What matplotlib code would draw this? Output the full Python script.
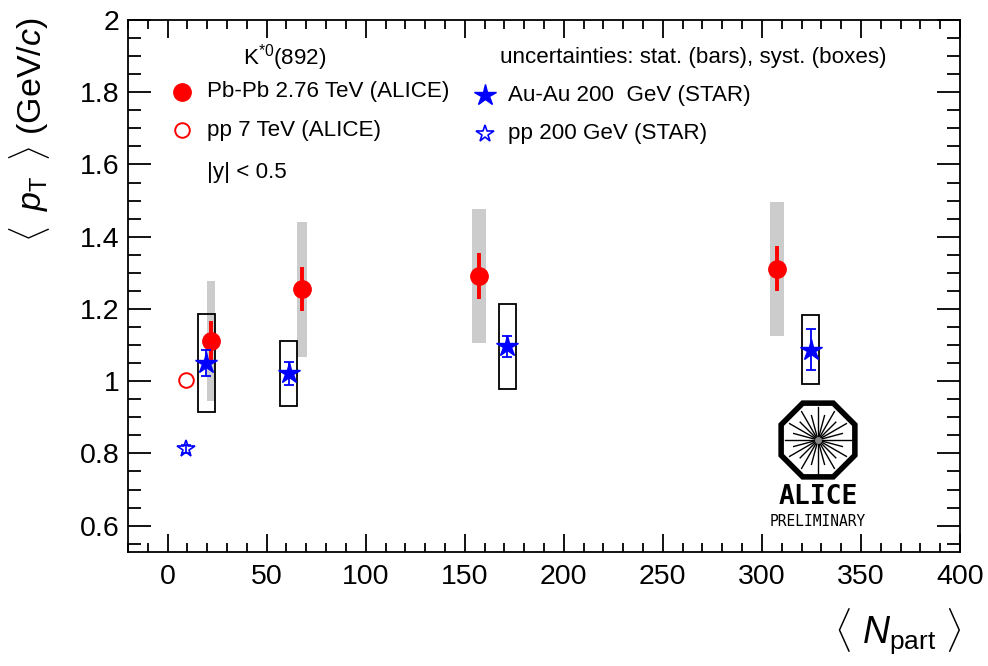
import numpy as np
import matplotlib
matplotlib.use("Agg")
import matplotlib.pyplot as plt
from matplotlib.patches import Rectangle, RegularPolygon
from matplotlib.ticker import MultipleLocator

plt.rcParams['font.family'] = ['Liberation Sans', 'DejaVu Sans']
plt.rcParams['mathtext.fontset'] = 'custom'
plt.rcParams['mathtext.rm'] = 'Liberation Sans'
plt.rcParams['mathtext.it'] = 'Liberation Sans:italic'
plt.rcParams['mathtext.bf'] = 'Liberation Sans:bold'

# K*0(892) mean pT vs <Npart>
# ALICE Pb-Pb 2.76 TeV
pbpb_npart = [22.0, 68.0, 157.0, 307.5]
pbpb_mpt = [1.111, 1.255, 1.291, 1.311]
pbpb_stat = [0.055, 0.061, 0.063, 0.062]
pbpb_syst = [0.165, 0.187, 0.185, 0.185]
pbpb_syst_w = [3.8, 5.2, 7.0, 7.0]

# ALICE pp 7 TeV
pp7_npart = [9.3]
pp7_mpt = [1.002]

# STAR Au-Au 200 GeV
auau_npart = [19.4, 61.2, 171.5, 324.6]
auau_mpt = [1.051, 1.022, 1.096, 1.087]
auau_stat = [0.036, 0.032, 0.028, 0.057]
auau_syst = [0.135, 0.090, 0.117, 0.095]
auau_syst_w = [8.6, 8.6, 8.6, 8.6]

# STAR pp 200 GeV
pp200_npart = [9.3]
pp200_mpt = [0.812]
pp200_stat = [0.012]

xticks = [0, 50, 100, 150, 200, 250, 300, 350, 400]
yticks = [0.6, 0.8, 1.0, 1.2, 1.4, 1.6, 1.8, 2.0]
ytick_labels = ["0.6", "0.8", "1", "1.2", "1.4", "1.6", "1.8", "2"]

RED = "#ff0000"
BLUE = "#0000ff"
GRAY = "#cccccc"

fig = plt.figure(figsize=(9.88, 6.66), dpi=100)
ax = fig.add_axes([128 / 988, 1 - 552 / 666, 832 / 988, 532 / 666])
ax.set_xlim(-20, 400)
ax.set_ylim(0.527, 2.0)

# systematic boxes
for x, y, s, w in zip(pbpb_npart, pbpb_mpt, pbpb_syst, pbpb_syst_w):
    ax.add_patch(Rectangle((x - w / 2, y - s), w, 2 * s, facecolor=GRAY,
                           edgecolor='none', zorder=1))
for x, y, s, w in zip(auau_npart, auau_mpt, auau_syst, auau_syst_w):
    ax.add_patch(Rectangle((x - w / 2, y - s), w, 2 * s, facecolor='none',
                           edgecolor='black', lw=1.3, zorder=2))

# points with statistical bars
ax.errorbar(pbpb_npart, pbpb_mpt, yerr=pbpb_stat, fmt='o', color=RED,
            ms=12.5, elinewidth=2.8, capsize=0, zorder=4)
ax.plot(pp7_npart, pp7_mpt, 'o', mfc='none', mec=RED, mew=1.4, ms=10.5, zorder=4)
ax.errorbar(auau_npart, auau_mpt, yerr=auau_stat, fmt='*', color=BLUE,
            ms=16, elinewidth=1.3, capsize=3.5, capthick=1.3, zorder=5)
ax.errorbar(pp200_npart, pp200_mpt, yerr=pp200_stat, fmt='*', color=BLUE,
            mfc='none', mec=BLUE, mew=1.2, ms=13, elinewidth=1.2,
            capsize=3.5, capthick=1.2, zorder=5)

# axes styling
ax.set_xticks(xticks)
ax.set_xticklabels([str(t) for t in xticks])
ax.set_yticks(yticks)
ax.set_yticklabels(ytick_labels)
ax.xaxis.set_minor_locator(MultipleLocator(10))
ax.yaxis.set_minor_locator(MultipleLocator(0.05))
ax.tick_params(which='both', direction='in', top=True, right=True,
               labelsize=20.5, width=1.3)
ax.tick_params(axis='x', which='major', length=13, pad=9)
ax.tick_params(axis='x', which='minor', length=6.5)
ax.tick_params(axis='y', which='major', length=16.5, pad=6)
ax.tick_params(axis='y', which='minor', length=9.5)
for sp in ax.spines.values():
    sp.set_linewidth(1.3)

fig.text(30 / 988, 1 - 18 / 666,
         r"$\langle\;\;p_{\mathrm{T}}\;\;\rangle$ (GeV/$c$)",
         rotation=90, ha='center', va='top', fontsize=24.5)
fig.text(962 / 988, 1 - 632 / 666, r"$\langle\ N_{\mathrm{part}}\ \rangle$",
         ha='right', va='center', fontsize=27)

# legend block
T = ax.transAxes
fs = 16.1
ax.text(0.138, 0.930, r"K$^{*0}$(892)", transform=T, fontsize=fs, va='center')
ax.plot([0.065], [0.865], 'o', color=RED, ms=12.5, transform=T, clip_on=False)
ax.text(0.095, 0.865, "Pb-Pb 2.76 TeV (ALICE)", transform=T, fontsize=fs, va='center')
ax.plot([0.065], [0.793], 'o', mfc='none', mec=RED, mew=1.4, ms=10.5,
        transform=T, clip_on=False)
ax.text(0.095, 0.793, "pp 7 TeV (ALICE)", transform=T, fontsize=fs, va='center')
ax.text(0.095, 0.714, "|y| < 0.5", transform=T, fontsize=fs, va='center')
ax.text(0.447, 0.930, "uncertainties: stat. (bars), syst. (boxes)", transform=T,
        fontsize=fs, va='center')
ax.plot([0.429], [0.859], '*', color=BLUE, ms=16, transform=T, clip_on=False)
ax.text(0.457, 0.859, "Au-Au 200  GeV (STAR)", transform=T, fontsize=fs, va='center')
ax.plot([0.429], [0.786], '*', mfc='none', mec=BLUE, mew=1.2, ms=13,
        transform=T, clip_on=False)
ax.text(0.457, 0.786, "pp 200 GeV (STAR)", transform=T, fontsize=fs, va='center')

# ALICE preliminary logo
lx = (818 - 128) / 832
lax = fig.add_axes([(818 - 42) / 988, 1 - (440 + 42) / 666, 84 / 988, 84 / 666])
lax.set_xlim(-1, 1)
lax.set_ylim(-1, 1)
lax.set_aspect('equal')
lax.axis('off')
lax.add_patch(RegularPolygon((0, 0), 8, radius=0.95, orientation=np.pi / 8,
                             facecolor='white', edgecolor='black', lw=4.0))
for a in np.linspace(0, np.pi, 13)[:-1]:
    r = 0.78 if int(round(a / (np.pi / 12))) % 2 == 0 else 0.6
    lax.plot([-r * np.cos(a), r * np.cos(a)], [-r * np.sin(a), r * np.sin(a)],
             color='black', lw=1.0)
lax.plot([0], [0], 'o', color='#888888', ms=4)
ax.text(lx, (552 - 497) / 532, "ALICE", transform=T, ha='center', va='center',
        fontsize=19, fontweight='bold', family='DejaVu Sans Mono')
ax.text(lx, (552 - 522) / 532, "PRELIMINARY", transform=T, ha='center',
        va='center', fontsize=10.5, family='DejaVu Sans Mono')

fig.savefig("out.png", dpi=100)
